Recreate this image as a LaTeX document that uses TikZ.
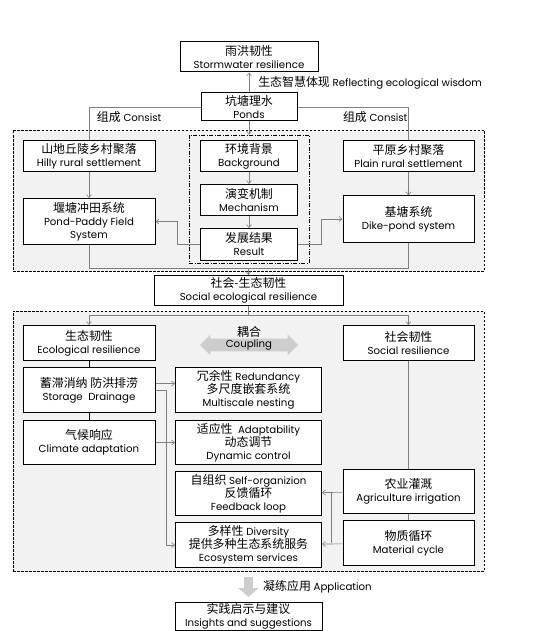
\documentclass[tikz,border=0pt]{standalone}
\usepackage{fontspec}
\setmainfont{Poppins}
\newfontfamily\zhfont[Scale=1.17]{Noto Sans CJK SC}
\newcommand{\zh}[1]{{\zhfont #1}}
\newcommand{\pdtext}{\fontsize{10.2}{13}\selectfont\lineskiplimit=-4pt}
\usepackage{tikz}
\definecolor{pondgray}{RGB}{128,128,128}
\definecolor{framegray}{RGB}{242,242,242}
\definecolor{bandgray}{RGB}{205,205,205}
\usetikzlibrary{arrows.meta, positioning, shapes.arrows}
\tikzset{
    pdbox/.style={draw, fill=white, line width=1pt, align=center, inner sep=1pt, font=\pdtext},
    wh/.style 2 args={minimum width=#1pt, minimum height=#2pt},
    pdframe/.style={draw, fill=framegray, line width=0.7pt, dash pattern=on 2.5pt off 1.5pt},
    pdline/.style={draw=pondgray, line width=0.6pt},
    pdarrow/.style={pdline, -{Straight Barb[length=3pt,width=5pt]}},
    pdlink/.style={draw=black, line width=1pt},
    pdlabel/.style={font=\pdtext, inner sep=1pt}
}
\begin{document}
\begin{tikzpicture}[x=1pt, y=-1pt]
  \path[use as bounding box] (0,0) rectangle (540,631);
  % the two dashed frames and the dash-dot process frame
  \node[pdframe, wh={471}{141}] (villages) at (248.5,200.5) {};
  \node[pdframe, wh={471}{260}] (social) at (248.5,441) {};
  \node[draw, line width=0.9pt, dash pattern=on 4pt off 1.5pt on 1pt off 1.5pt,
        wh={120}{128}] (process) at (249,199) {};
  % top
  \node[pdbox, wh={138}{30}] (storm) at (249,57) {\zh{雨洪韧性}\\Stormwater resilience};
  \node[pdbox, wh={96}{28}]  (ponds) at (249,107) {\zh{坑塘理水}\\Ponds};
  % settlements
  \node[pdbox, wh={132}{31}] (hilly) at (89,156) {\zh{山地丘陵乡村聚落}\\Hilly rural settlement};
  \node[pdbox, wh={132}{46}] (paddy) at (89,221.5) {\zh{堰塘冲田系统}\\Pond-Paddy Field\\System};
  \node[pdbox, wh={131}{31}] (plain) at (408.5,156) {\zh{平原乡村聚落}\\Plain rural settlement};
  \node[pdbox, wh={131}{46.5}] (dike) at (408.5,219) {\zh{基塘系统}\\Dike-pond system};
  \node[pdbox, wh={97}{31}] (bg) at (249,156) {\zh{环境背景}\\Background};
  \node[pdbox, wh={97}{31}, below=12pt of bg]   (mech) {\zh{演变机制}\\Mechanism};
  \node[pdbox, wh={97}{31.5}, below=12pt of mech] (res) {\zh{发展结果}\\Result};
  % resilience
  \node[pdbox, wh={189}{30}] (socio) at (248.5,290.5) {\zh{社会-生态韧性}\\Social ecological resilience};
  \node[pdbox, wh={132}{35}] (eco) at (89,343) {\zh{生态韧性}\\Ecological resilience};
  \node[pdbox, wh={131}{35}] (soc) at (408.5,343) {\zh{社会韧性}\\Social resilience};
  \node[pdlabel] (couplab) at (249,332) {\zh{耦合}};
  \node[double arrow, fill=bandgray, minimum height=98pt, minimum width=20pt,
        double arrow head extend=4pt, inner sep=1pt, font=\pdtext] (coupling) at (249,345) {Coupling};
  \node[pdbox, wh={132}{45}] (storage) at (89,390) {\zh{蓄滞消纳 防洪排涝}\\Storage\ \ Drainage};
  \node[pdbox, wh={132}{44}, below=7pt of storage] (climate) {\zh{气候响应}\\Climate adaptation};
  \node[pdbox, wh={146}{45}] (redund) at (248.5,390) {\zh{冗余性} Redundancy\\\zh{多尺度嵌套系统}\\Multiscale nesting};
  \node[pdbox, wh={146}{44}, below=7pt of redund] (adapt) {\zh{适应性}\ \ Adaptability\\\zh{动态调节}\\Dynamic control};
  \node[pdbox, wh={146}{44}, below=6pt of adapt] (selforg) {\zh{自组织} Self-organizion\\\zh{反馈循环}\\Feedback loop};
  \node[pdbox, wh={146}{45}, below=6pt of selforg] (divers) {\zh{多样性} Diversity\\\zh{提供多种生态系统服务}\\Ecosystem services};
  \node[pdbox, wh={131}{44}] (agri) at (408.5,491.5) {\zh{农业灌溉}\\Agriculture irrigation};
  \node[pdbox, wh={131}{45}, below=6pt of agri] (mater) {\zh{物质循环}\\Material cycle};
  % application
  \node[pdbox, wh={147}{28}] (ins) at (248.5,616.5) {\zh{实践启示与建议}\\Insights and suggestions};
  \node[pdlabel, anchor=west] (applab) at (262,587) {\zh{凝练应用} Application};
  % connectors, top part
  \draw[pdarrow] (ponds) -- node[right=8pt, pdlabel] {\zh{生态智慧体现} Reflecting ecological wisdom} (storm);
  \draw[pdline] (ponds.west) -| node[pos=0.32, below=3pt, pdlabel] {\zh{组成} Consist} (hilly.north);
  \draw[pdline] (ponds.east) -| node[pos=0.35, below=3pt, pdlabel] {\zh{组成} Consist} (plain.north);
  \draw[pdarrow] (ponds) -- (process);
  \draw[pdarrow] (hilly) -- (paddy);
  \draw[pdarrow] (plain) -- (dike);
  \draw[pdarrow] (bg) -- (mech);
  \draw[pdarrow] (mech) -- (res);
  \draw[pdarrow] (res.west) -- ++(-23,0) |- (paddy.east);
  \draw[pdarrow] (res.east) -- ++(23,0) |- (dike.west);
  \coordinate (merge) at ([yshift=-23pt]paddy.south);
  \draw[pdline] (paddy.south) -- (merge) -| (dike.south);
  \draw[pdarrow] (merge -| socio.north) -- (socio.north);
  % connectors, resilience part
  \coordinate (split) at ([yshift=-9.5pt]socio.south);
  \draw[pdline] (socio.south) -- (split);
  \draw[pdarrow] (split) -| (eco.north);
  \draw[pdarrow] (split) -| (soc.north);
  \draw[pdlink] (eco) -- (storage);
  \draw[pdlink] (storage) -- (climate);
  \draw[pdarrow] ([yshift=6.5pt]storage.east) -- ([yshift=6.5pt]redund.west);
  \draw[pdarrow] (storage.east) -- ++(11,0) |- (divers.west);
  \draw[pdarrow] (climate) -- (adapt);
  \draw[pdline] (soc) -- (agri);
  \draw[pdline] (agri) -- (mater);
  \draw[pdarrow] (agri) -- (selforg);
  \draw[pdarrow] (mater) -- (divers);
  \draw[pdline] ([xshift=-11.5pt]agri.west) -- ([xshift=-11.5pt]mater.west);
  % application arrow
  \draw[draw=bandgray, line width=9pt, -{Triangle[length=9pt,width=20pt]},
        shorten <=6pt, shorten >=5pt] (social.south) -- (ins.north);
\end{tikzpicture}
\end{document}
